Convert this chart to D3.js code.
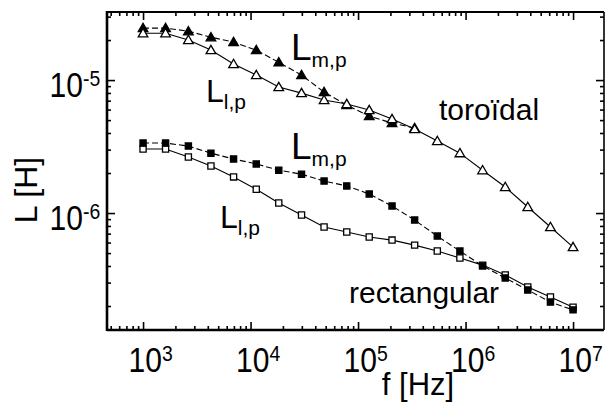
<!DOCTYPE html>
<html>
<head>
<meta charset="utf-8">
<script src="https://cdn.jsdelivr.net/npm/d3@7"></script>
<style>
  body { margin: 0; background: #fff; }
  svg { display: block; font-family: "Liberation Sans", Arial, sans-serif; }
</style>
</head>
<body>
<svg id="chart" width="606" height="406"></svg>
<script>
// frequencies (Hz), same for every series
var freq = [1000, 1620, 2640, 4280, 6950, 11300, 18300, 29800, 48300, 78500,
            127000, 207000, 336000, 546000, 886000, 1440000, 2340000, 3790000, 6160000, 10000000];

// toroidal coil (triangles), L in H
var torLm = [2.46e-5, 2.46e-5, 2.33e-5, 2.10e-5, 1.93e-5, 1.68e-5, 1.36e-5, 1.09e-5, 8.12e-6, 6.48e-6,
             5.36e-6, 4.75e-6, 4.36e-6];
var torLl = [2.25e-5, 2.25e-5, 2.00e-5, 1.68e-5, 1.32e-5, 1.09e-5, 8.86e-6, 7.98e-6, 7.08e-6, 6.60e-6,
             5.95e-6, 5.09e-6, 4.28e-6, 3.48e-6, 2.82e-6, 2.10e-6, 1.57e-6, 1.11e-6, 7.85e-7, 5.55e-7];

// rectangular coil (squares)
var recLm = [3.36e-6, 3.36e-6, 3.19e-6, 2.82e-6, 2.55e-6, 2.34e-6, 2.10e-6, 1.96e-6, 1.74e-6, 1.60e-6,
             1.39e-6, 1.13e-6, 8.86e-7, 6.71e-7, 5.18e-7, 4.00e-7, 3.25e-7, 2.64e-7, 2.14e-7, 1.87e-7];
var recLl = [3.03e-6, 3.03e-6, 2.64e-6, 2.26e-6, 1.87e-6, 1.51e-6, 1.19e-6, 9.66e-7, 7.85e-7, 7.20e-7,
             6.60e-7, 6.26e-7, 5.74e-7, 5.18e-7, 4.59e-7, 4.06e-7, 3.42e-7, 2.78e-7, 2.34e-7, 1.96e-7];

var xTickLabels = [1e3, 1e4, 1e5, 1e6, 1e7];
var yTickLabels = [1e-6, 1e-5];

var svg = d3.select("#chart");
var plotL = 107, plotR = 604, plotT = 12, plotB = 330;

var x = d3.scaleLog().domain([462, 1.94e7]).range([plotL, plotR]);
var y = d3.scaleLog().domain([1.32e-7, 3.25e-5]).range([plotB, plotT]);

function isDecade(v) {
  var e = Math.log10(v);
  return Math.abs(e - Math.round(e)) < 1e-9;
}
var xMinor = x.ticks().filter(function(v) { return !isDecade(v); });
var yMinor = y.ticks().filter(function(v) { return !isDecade(v); });

// inward ticks on all four sides
function tickAxis(axis, pos, values, size) {
  var g = svg.append("g")
    .attr("transform", pos)
    .call(axis.tickValues(values).tickSize(-size).tickFormat(""));
  g.select(".domain").remove();
  g.selectAll("line").attr("stroke", "#000").attr("stroke-width", 1.6);
}
[[xMinor, 4], [xTickLabels, 8]].forEach(function(t) {
  tickAxis(d3.axisBottom(x), "translate(0," + plotB + ")", t[0], t[1]);
  tickAxis(d3.axisTop(x), "translate(0," + plotT + ")", t[0], t[1]);
});
[[yMinor, 4], [yTickLabels, 8]].forEach(function(t) {
  tickAxis(d3.axisLeft(y), "translate(" + plotL + ",0)", t[0], t[1]);
  tickAxis(d3.axisRight(y), "translate(" + plotR + ",0)", t[0], t[1]);
});

// frame
svg.append("line").attr("x1", plotL).attr("x2", plotL).attr("y1", plotT - 1).attr("y2", plotB + 1)
  .attr("stroke", "#000").attr("stroke-width", 2.6);
svg.append("line").attr("x1", plotL).attr("x2", plotR).attr("y1", plotB).attr("y2", plotB)
  .attr("stroke", "#000").attr("stroke-width", 2.4);
svg.append("line").attr("x1", plotL).attr("x2", plotR).attr("y1", plotT).attr("y2", plotT)
  .attr("stroke", "#000").attr("stroke-width", 2);
svg.append("line").attr("x1", plotR).attr("x2", plotR).attr("y1", plotT).attr("y2", plotB)
  .attr("stroke", "#000").attr("stroke-width", 1.6);

// tick labels (a bit taller than wide, like the scan)
function powLabel(px, py, e) {
  var g = svg.append("g").attr("transform", "translate(" + px + "," + py + ") scale(0.97,1.12)");
  g.append("text").attr("text-anchor", "end").attr("font-size", 31).text("10");
  g.append("text").attr("y", -10).attr("font-size", 20).text(e);
}
xTickLabels.forEach(function(v) {
  powLabel(x(v) + 19, 372, Math.round(Math.log10(v)));
});
yTickLabels.forEach(function(v) {
  powLabel(83, y(v) + 17, Math.round(Math.log10(v)));
});

// axis titles
svg.append("text").attr("transform", "translate(37,190) rotate(-90)")
  .attr("text-anchor", "middle").attr("font-size", 32).text("L [H]");
svg.append("text").attr("x", 418).attr("y", 395)
  .attr("text-anchor", "middle").attr("font-size", 31).text("f [Hz]");

// series
var line = d3.line()
  .x(function(d) { return x(d[0]); })
  .y(function(d) { return y(d[1]); });

function series(vals, dashed) {
  var pts = vals.map(function(v, i) { return [freq[i], v]; });
  svg.append("path").datum(pts)
    .attr("d", line).attr("fill", "none").attr("stroke", "#000").attr("stroke-width", 1.1)
    .attr("stroke-dasharray", dashed ? "6,3" : null);
  return pts;
}

var tri = d3.symbol().type(d3.symbolTriangle).size(40);
var sq = d3.symbol().type(d3.symbolSquare).size(38);

function markers(pts, sym, filled, dy) {
  svg.append("g").selectAll("path").data(pts).enter().append("path")
    .attr("d", sym)
    .attr("transform", function(d) { return "translate(" + x(d[0]) + "," + (y(d[1]) + dy) + ")"; })
    .attr("fill", filled ? "#000" : "#fff")
    .attr("stroke", "#000").attr("stroke-width", 1.3);
}

var pTorLm = series(torLm, true);
var pTorLl = series(torLl, false);
var pRecLm = series(recLm, true);
var pRecLl = series(recLl, false);

markers(pTorLm, tri, true, 0.8);
markers(pTorLl, tri, false, 0.8);
markers(pRecLl, sq, false, 0);
markers(pRecLm, sq, true, 0);

// in-plot labels
function lab(xp, yp, size, sub) {
  var t = svg.append("text").attr("x", xp).attr("y", yp).attr("font-size", size).text("L");
  t.append("tspan").attr("font-size", 21).attr("dy", 7).text(sub);
}
lab(291, 60, 37, "m,p");
lab(206, 102, 32, "l,p");
lab(291, 159, 37, "m,p");
lab(220, 228, 32, "l,p");

svg.append("text").attr("x", 439).attr("y", 120).attr("font-size", 30).text("toroïdal");
svg.append("text").attr("x", 349).attr("y", 303).attr("font-size", 30).text("rectangular");
</script>
</body>
</html>
